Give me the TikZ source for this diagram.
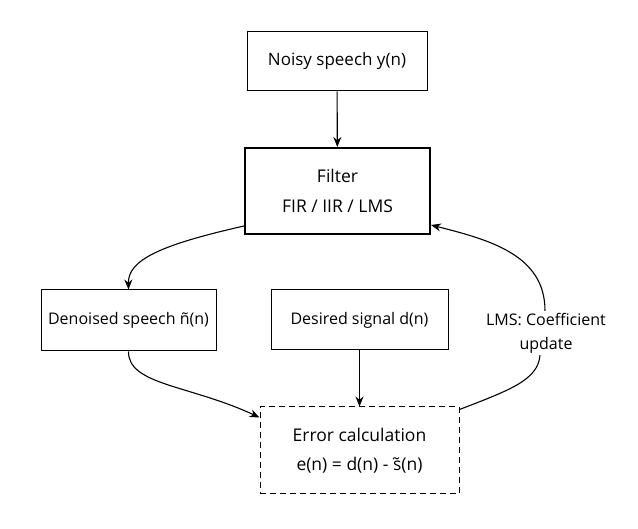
\documentclass[tikz,border=0pt]{standalone}
\usepackage{fontspec}
\setmainfont{Open Sans}
\usetikzlibrary{arrows.meta,calc}
\begin{document}
\begin{tikzpicture}[x=1pt,y=-1pt,
  box/.style={draw,line width=1pt,minimum width=#1,align=center,font=\fontsize{16}{28}\selectfont,inner sep=0pt},
  big/.style={font=\fontsize{17.5}{29.5}\selectfont},
  conn/.style={line width=1.1pt,-{Stealth[length=10pt,width=8pt]}},
  plain/.style={line width=1.1pt}]
\useasboundingbox (0,0) rectangle (638,529);
\node[box=180pt,minimum height=59pt,font=\fontsize{17}{28}\selectfont] (noisy) at (337,61.5) {Noisy speech y(n)};
\node[box=185pt,minimum height=86pt,line width=2pt,big] (filter) at (337.5,191) {Filter\\FIR / IIR / LMS};
\node[box=175pt,minimum height=61pt] (den) at (128.5,320.5) {Denoised speech \~{n}(n)};
\node[box=177pt,minimum height=60pt] (des) at (359.5,320) {Desired signal d(n)};
\node[box=199pt,minimum height=87pt,dashed,dash pattern=on 6pt off 4pt,big] (err) at (359.5,450.5) {Error calculation\\e(n) = d(n) - \~{s}(n)};
\node[align=center,font=\fontsize{16}{24}\selectfont,inner sep=2pt] (lms) at (546,333) {LMS: Coefficient\\update};
\draw[conn] (noisy) -- (filter);
\draw[conn] (des) -- (err);
\draw[conn] ([yshift=9pt]filter.south west) .. controls (160,245) and (128,260) .. (den.north);
\draw[conn] (den.south) .. controls (128,385) and (190,385) .. ([yshift=-11pt]err.north west);
\draw[plain] ([yshift=-3pt]err.north east) .. controls (510,390) and (538,380) .. ([xshift=-6pt]lms.south);
\draw[conn] ([xshift=-1pt]lms.north) .. controls (545,255) and (490,240) .. ([yshift=10pt]filter.south east);
\end{tikzpicture}
\end{document}
